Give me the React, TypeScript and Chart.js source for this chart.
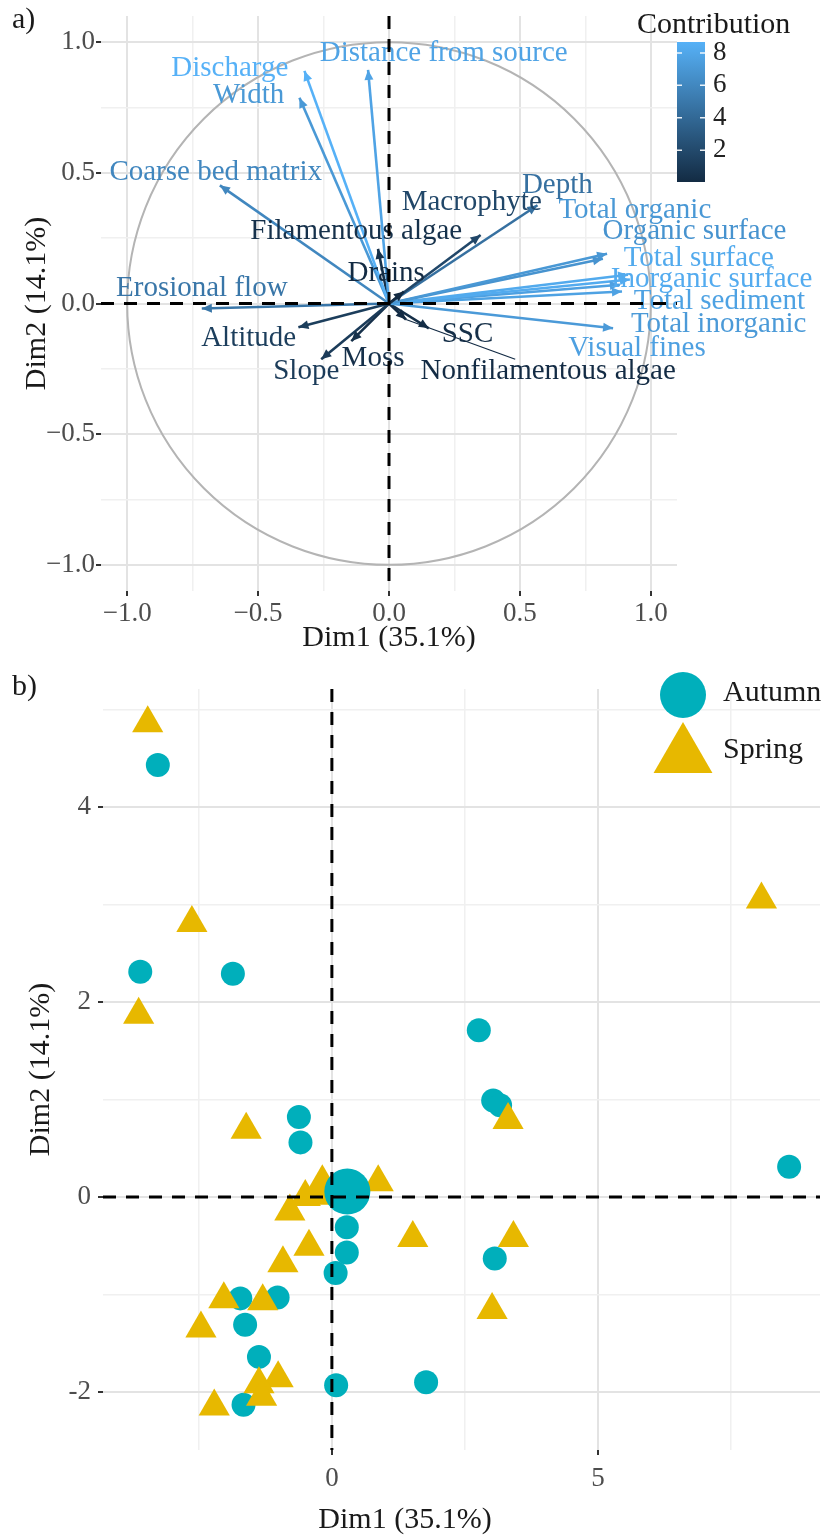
import React, { useEffect, useRef } from "react";
import { Chart, registerables } from "chart.js";

Chart.register(...registerables);

const SERIF = '"Liberation Serif", "Times New Roman", Times, serif';

// ---------------- Panel a: variables (correlation circle) ----------------
const varNames = [
  "Discharge", "Width", "Distance from source", "Coarse bed matrix", "Erosional flow",
  "Altitude", "Slope", "Moss", "Filamentous algae", "Drains", "Macrophyte", "Depth",
  "Total organic", "Organic surface", "Total surface", "Inorganic surface", "Total sediment",
  "Total inorganic", "Visual fines", "SSC", "Nonfilamentous algae",
];
const varDim1 = [-0.323, -0.342, -0.08, -0.646, -0.715, -0.346, -0.259, -0.144, -0.042, 0.057, 0.35, 0.567,
  0.833, 0.817, 0.913, 0.92, 0.89, 0.856, 0.882, 0.152, 0.065];
const varDim2 = [0.89, 0.787, 0.894, 0.452, -0.019, -0.091, -0.213, -0.144, 0.209, 0.046, 0.262, 0.376,
  0.19, 0.171, 0.11, 0.092, 0.046, -0.095, 0.072, -0.095, -0.061];
const varContrib = [8.67, 7.1, 7.8, 6.0, 4.9, 1.25, 1.1, 0.4, 0.45, 0.05, 1.85, 4.5,
  7.05, 6.75, 8.2, 8.3, 7.7, 7.2, 7.6, 0.3, 0.08];
// repelled label anchors (data units)
const labelDim1 = [-0.608, -0.536, 0.209, -0.662, -0.715, -0.536, -0.316, -0.061, -0.125, -0.011, 0.316, 0.643,
  0.939, 1.167, 1.183, 1.232, 1.262, 1.259, 0.947, 0.3, 0.608];
const labelDim2 = [0.901, 0.795, 0.958, 0.502, 0.057, -0.133, -0.259, -0.209, 0.274, 0.114, 0.388, 0.452,
  0.357, 0.274, 0.171, 0.091, 0.008, -0.08, -0.171, -0.118, -0.259];
const segmentVars = ["Nonfilamentous algae"];

const aMajor = [-1, -0.5, 0, 0.5, 1];
const aMinor = [-0.75, -0.25, 0.25, 0.75];
const aTickLabels = ["−1.0", "−0.5", "0.0", "0.5", "1.0"];
const contribTicks = [2, 4, 6, 8];

// ---------------- Panel b: individuals ----------------
const autumnDim1 = [-3.27, -3.6, -1.86, 2.76, 3.03, 3.16, -0.62, -0.59, 8.59, 0.28, 0.28, 0.07, 3.06,
  -1.72, -1.02, -1.63, -1.37, 0.08, 1.77, -1.66];
const autumnDim2 = [4.43, 2.31, 2.29, 1.71, 0.99, 0.94, 0.82, 0.56, 0.31, -0.31, -0.57, -0.78, -0.63,
  -1.04, -1.03, -1.31, -1.64, -1.93, -1.9, -2.13];
const springDim1 = [-3.46, 8.07, -2.63, -3.63, 3.31, -1.61, 0.87, -0.79, 3.41, 1.52, -0.43, -0.92, 3.01,
  -2.03, -1.3, -2.46, -1.01, -1.37, -1.32, -2.21, -0.5];
const springDim2 = [4.86, 3.05, 2.81, 1.87, 0.79, 0.69, 0.15, -0.15, -0.42, -0.42, -0.51, -0.68, -1.16,
  -1.05, -1.07, -1.35, -1.86, -1.92, -2.05, -2.15, 0.0];
const autumnMean = [0.29, 0.055];
const springMean = [-0.18, 0.06];
const seasonNames = ["Autumn", "Spring"];
const bXMajor = [0, 5];
const bXMinor = [-2.5, 2.5, 7.5];
const bYMajor = [-2, 0, 2, 4];
const bYMinor = [-1, 1, 3, 5];

const AUT = "#00AFBB";
const SPR = "#E7B800";
const LOW = [0x13, 0x2b, 0x43];
const HIGH = [0x56, 0xb1, 0xf7];
const cMin = Math.min(...varContrib);
const cMax = Math.max(...varContrib);

function gradColor(v: number) {
  const t = Math.max(0, Math.min(1, (v - cMin) / (cMax - cMin)));
  const c = LOW.map((l, i) => Math.round(l + (HIGH[i] - l) * t));
  return `rgb(${c[0]},${c[1]},${c[2]})`;
}
const varColors = varContrib.map(gradColor);

function gridCfg(majors: number[]) {
  const isMajor = (c: any) => c && c.tick && majors.includes(c.tick.value);
  return {
    color: (c: any) => (isMajor(c) ? "#e3e3e3" : "#f0f0f0"),
    lineWidth: (c: any) => (isMajor(c) ? 2 : 1.5),
    tickColor: (c: any) => (isMajor(c) ? "#333333" : "rgba(0,0,0,0)"),
    tickLength: 5,
    tickWidth: 2,
    drawTicks: true,
  };
}

function fixX(h: number) {
  return (s: any) => { s.height = h; s.paddingLeft = 0; s.paddingRight = 0; };
}
function fixY(w: number) {
  return (s: any) => { s.width = w; s.paddingTop = 0; s.paddingBottom = 0; };
}

function dashedZero(chart: any) {
  const { ctx, chartArea, scales } = chart;
  const x0 = scales.x.getPixelForValue(0);
  const y0 = scales.y.getPixelForValue(0);
  ctx.save();
  ctx.strokeStyle = "#000";
  ctx.lineWidth = 3;
  ctx.setLineDash([13, 10]);
  ctx.beginPath();
  ctx.moveTo(chartArea.left, y0);
  ctx.lineTo(chartArea.right, y0);
  ctx.moveTo(x0, chartArea.top);
  ctx.lineTo(x0, chartArea.bottom);
  ctx.stroke();
  ctx.restore();
}

const panelAPlugin = {
  id: "panelA",
  beforeDatasetsDraw(chart: any) {
    const { ctx, scales } = chart;
    const cx = scales.x.getPixelForValue(0);
    const cy = scales.y.getPixelForValue(0);
    const rx = scales.x.getPixelForValue(1) - cx;
    const ry = cy - scales.y.getPixelForValue(1);
    ctx.save();
    ctx.strokeStyle = "#b4b4b4";
    ctx.lineWidth = 2;
    ctx.beginPath();
    ctx.ellipse(cx, cy, rx, ry, 0, 0, Math.PI * 2);
    ctx.stroke();
    ctx.restore();
  },
  afterDatasetsDraw(chart: any) {
    const { ctx, scales } = chart;
    const cx = scales.x.getPixelForValue(0);
    const cy = scales.y.getPixelForValue(0);
    ctx.save();
    varNames.forEach((_, i) => {
      const tx = scales.x.getPixelForValue(varDim1[i]);
      const ty = scales.y.getPixelForValue(varDim2[i]);
      const ang = Math.atan2(ty - cy, tx - cx);
      const L = 11, W = 0.42;
      ctx.fillStyle = varColors[i];
      ctx.beginPath();
      ctx.moveTo(tx, ty);
      ctx.lineTo(tx - L * Math.cos(ang - W), ty - L * Math.sin(ang - W));
      ctx.lineTo(tx - L * Math.cos(ang + W), ty - L * Math.sin(ang + W));
      ctx.closePath();
      ctx.fill();
    });
    ctx.font = `29px ${SERIF}`;
    ctx.textAlign = "center";
    ctx.textBaseline = "middle";
    varNames.forEach((name, i) => {
      const lx = scales.x.getPixelForValue(labelDim1[i]);
      const ly = scales.y.getPixelForValue(labelDim2[i]);
      if (segmentVars.includes(name)) {
        const tx = scales.x.getPixelForValue(varDim1[i]);
        const ty = scales.y.getPixelForValue(varDim2[i]);
        const hw = ctx.measureText(name).width / 2;
        const hh = 12;
        const dx = tx - lx, dy = ty - ly;
        const s = Math.min(hw / Math.max(Math.abs(dx), 1e-6), hh / Math.max(Math.abs(dy), 1e-6));
        if (s < 1) {
          ctx.strokeStyle = varColors[i];
          ctx.lineWidth = 1.2;
          ctx.beginPath();
          ctx.moveTo(tx, ty);
          ctx.lineTo(lx + dx * s, ly + dy * s);
          ctx.stroke();
        }
      }
      ctx.fillStyle = varColors[i];
      ctx.fillText(name, lx, ly);
    });
    ctx.restore();
    dashedZero(chart);
  },
  afterDraw(chart: any) {
    const { ctx, chartArea } = chart;
    ctx.save();
    ctx.fillStyle = "#1a1a1a";
    ctx.font = `30px ${SERIF}`;
    ctx.textAlign = "center";
    ctx.textBaseline = "middle";
    ctx.fillText("Dim1 (35.1%)", (chartArea.left + chartArea.right) / 2, 638);
    ctx.save();
    ctx.translate(37, (chartArea.top + chartArea.bottom) / 2);
    ctx.rotate(-Math.PI / 2);
    ctx.fillText("Dim2 (14.1%)", 0, 0);
    ctx.restore();
    ctx.textAlign = "left";
    ctx.fillText("a)", 12, 20);
    ctx.fillText("Contribution", 637, 25);
    const bx = 677, bw = 28, bTop = 42, bBot = 182;
    const g = ctx.createLinearGradient(0, bBot, 0, bTop);
    g.addColorStop(0, gradColor(cMin));
    g.addColorStop(0.5, gradColor((cMin + cMax) / 2));
    g.addColorStop(1, gradColor(cMax));
    ctx.fillStyle = g;
    ctx.fillRect(bx, bTop, bw, bBot - bTop);
    ctx.font = `27px ${SERIF}`;
    ctx.textBaseline = "middle";
    contribTicks.forEach((v) => {
      const yy = bBot - ((v - cMin) / (cMax - cMin)) * (bBot - bTop);
      ctx.strokeStyle = "rgba(255,255,255,0.9)";
      ctx.lineWidth = 1.5;
      ctx.beginPath();
      ctx.moveTo(bx, yy);
      ctx.lineTo(bx + 5, yy);
      ctx.moveTo(bx + bw - 5, yy);
      ctx.lineTo(bx + bw, yy);
      ctx.stroke();
      ctx.fillStyle = "#222";
      ctx.fillText(String(v), bx + bw + 8, yy);
    });
    ctx.restore();
  },
};

const B_TOP = 660;

const panelBPlugin = {
  id: "panelB",
  afterDatasetsDraw(chart: any) {
    dashedZero(chart);
  },
  afterDraw(chart: any) {
    const { ctx, chartArea } = chart;
    ctx.save();
    ctx.fillStyle = "#1a1a1a";
    ctx.font = `30px ${SERIF}`;
    ctx.textAlign = "center";
    ctx.textBaseline = "middle";
    ctx.fillText("Dim1 (35.1%)", 405, 1520 - B_TOP);
    ctx.save();
    ctx.translate(41, (chartArea.top + chartArea.bottom) / 2);
    ctx.rotate(-Math.PI / 2);
    ctx.fillText("Dim2 (14.1%)", 0, 0);
    ctx.restore();
    ctx.textAlign = "left";
    ctx.fillText("b)", 12, 687 - B_TOP);
    ctx.fillStyle = AUT;
    ctx.beginPath();
    ctx.arc(683, 695 - B_TOP, 23, 0, Math.PI * 2);
    ctx.fill();
    const r = 34, tcx = 683, tcy = 756 - B_TOP;
    ctx.fillStyle = SPR;
    ctx.beginPath();
    for (let k = 0; k < 3; k++) {
      const a = (k * 2 * Math.PI) / 3;
      const px = tcx + Math.sin(a) * r, py = tcy - Math.cos(a) * r;
      if (k === 0) ctx.moveTo(px, py); else ctx.lineTo(px, py);
    }
    ctx.closePath();
    ctx.fill();
    ctx.fillStyle = "#1a1a1a";
    ctx.fillText(seasonNames[0], 723, 693 - B_TOP);
    ctx.fillText(seasonNames[1], 723, 750 - B_TOP);
    ctx.restore();
  },
};

function PanelA() {
  const ref = useRef<HTMLCanvasElement>(null);
  useEffect(() => {
    const allTicks = [...aMajor, ...aMinor].sort((a, b) => a - b);
    const chart = new Chart(ref.current as HTMLCanvasElement, {
      type: "scatter",
      data: {
        datasets: varNames.map((n, i) => ({
          label: n,
          data: [{ x: 0, y: 0 }, { x: varDim1[i], y: varDim2[i] }],
          showLine: true,
          borderColor: varColors[i],
          backgroundColor: varColors[i],
          borderWidth: 2.6,
          pointRadius: 0,
          pointHoverRadius: 0,
        })),
      },
      options: {
        animation: false,
        responsive: false,
        maintainAspectRatio: false,
        events: [],
        layout: { autoPadding: false, padding: { left: 0, right: 149, top: 16, bottom: 29 } },
        plugins: { legend: { display: false }, tooltip: { enabled: false } },
        scales: {
          x: {
            type: "linear",
            min: -1.1,
            max: 1.1,
            afterBuildTicks: (s: any) => { s.ticks = allTicks.map((v) => ({ value: v })); },
            afterFit: fixX(40),
            grid: gridCfg(aMajor) as any,
            border: { display: false },
            ticks: {
              autoSkip: false, maxRotation: 0, padding: 2, color: "#4d4d4d",
              font: { family: SERIF, size: 27 },
              callback: (v: any) => { const i = aMajor.indexOf(v); return i >= 0 ? aTickLabels[i] : ""; },
            },
          },
          y: {
            type: "linear",
            min: -1.1,
            max: 1.1,
            afterBuildTicks: (s: any) => { s.ticks = allTicks.map((v) => ({ value: v })); },
            afterFit: fixY(101),
            grid: gridCfg(aMajor) as any,
            border: { display: false },
            ticks: {
              autoSkip: false, padding: 1, color: "#4d4d4d",
              font: { family: SERIF, size: 27 },
              callback: (v: any) => { const i = aMajor.indexOf(v); return i >= 0 ? aTickLabels[i] : ""; },
            },
          },
        },
      } as any,
      plugins: [panelAPlugin],
    });
    return () => chart.destroy();
  }, []);
  return (
    <canvas ref={ref} width={826} height={660}
      style={{ position: "absolute", left: 0, top: 0, width: 826, height: 660 }} />
  );
}

function PanelB() {
  const ref = useRef<HTMLCanvasElement>(null);
  useEffect(() => {
    const xTicks = [...bXMajor, ...bXMinor].sort((a, b) => a - b);
    const yTicks = [...bYMajor, ...bYMinor].sort((a, b) => a - b);
    const pt = (xs: number[], ys: number[]) => xs.map((x, i) => ({ x, y: ys[i] }));
    const chart = new Chart(ref.current as HTMLCanvasElement, {
      type: "scatter",
      data: {
        datasets: [
          { label: "Autumn mean", data: [{ x: autumnMean[0], y: autumnMean[1] }], pointStyle: "circle",
            pointRadius: 23, pointBackgroundColor: AUT, pointBorderWidth: 0, backgroundColor: AUT, borderColor: AUT },
          { label: "Spring mean", data: [{ x: springMean[0], y: springMean[1] }], pointStyle: "triangle",
            pointRadius: 27, pointBackgroundColor: SPR, pointBorderWidth: 0, backgroundColor: SPR, borderColor: SPR },
          { label: "Spring", data: pt(springDim1, springDim2), pointStyle: "triangle",
            pointRadius: 18, pointBackgroundColor: SPR, pointBorderWidth: 0, backgroundColor: SPR, borderColor: SPR },
          { label: "Autumn", data: pt(autumnDim1, autumnDim2), pointStyle: "circle",
            pointRadius: 12, pointBackgroundColor: AUT, pointBorderWidth: 0, backgroundColor: AUT, borderColor: AUT },
        ],
      },
      options: {
        animation: false,
        responsive: false,
        maintainAspectRatio: false,
        events: [],
        layout: { autoPadding: false, padding: { left: 0, right: 6, top: 29, bottom: 50 } },
        plugins: { legend: { display: false }, tooltip: { enabled: false } },
        scales: {
          x: {
            type: "linear",
            min: -4.3,
            max: 9.17,
            afterBuildTicks: (s: any) => { s.ticks = xTicks.map((v) => ({ value: v })); },
            afterFit: fixX(40),
            grid: gridCfg(bXMajor) as any,
            border: { display: false },
            ticks: {
              autoSkip: false, maxRotation: 0, padding: 8, color: "#4d4d4d",
              font: { family: SERIF, size: 27 },
              callback: (v: any) => (bXMajor.includes(v) ? String(v) : ""),
            },
          },
          y: {
            type: "linear",
            min: -2.595,
            max: 5.21,
            afterBuildTicks: (s: any) => { s.ticks = yTicks.map((v) => ({ value: v })); },
            afterFit: fixY(103),
            grid: gridCfg(bYMajor) as any,
            border: { display: false },
            ticks: {
              autoSkip: false, padding: 7, color: "#4d4d4d",
              font: { family: SERIF, size: 27 },
              callback: (v: any) => (bYMajor.includes(v) ? String(v) : ""),
            },
          },
        },
      } as any,
      plugins: [panelBPlugin],
    });
    return () => chart.destroy();
  }, []);
  return (
    <canvas ref={ref} width={826} height={880}
      style={{ position: "absolute", left: 0, top: B_TOP, width: 826, height: 880 }} />
  );
}

export default function App() {
  return (
    <div style={{ position: "absolute", left: 0, top: 0, width: 826, height: 1540, background: "#fff", overflow: "hidden" }}>
      <PanelA />
      <PanelB />
    </div>
  );
}
